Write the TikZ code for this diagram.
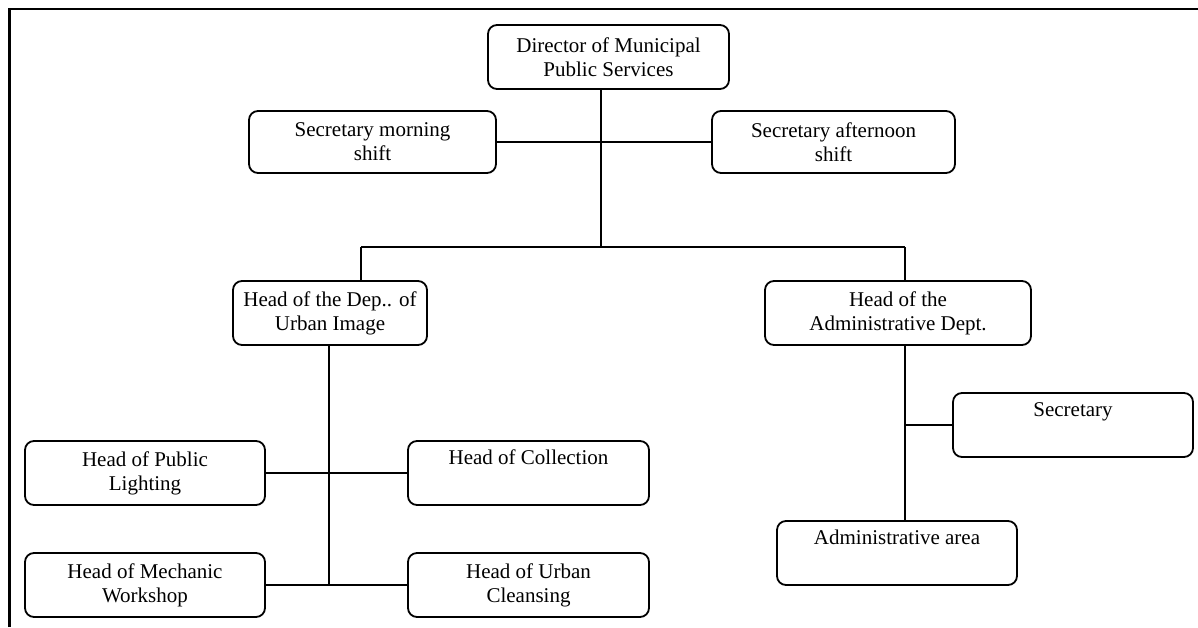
\documentclass[tikz,border=0pt]{standalone}
\usepackage{fontspec}
\setmainfont{Liberation Serif}
\begin{document}
\begin{tikzpicture}[x=1pt,y=-1pt,
  orgbox/.style={draw, line width=1.8pt, rounded corners=9pt, align=center,
    inner sep=0pt, font=\fontsize{21}{24}\selectfont},
  link/.style={line width=1.7pt}]
\useasboundingbox (0,0) rectangle (1198,627);
% frame
\draw[line width=2.6pt] (9.5,627) -- (9.5,9) -- (1198,9);

% boxes: centre, width, height in px
\node[orgbox, minimum width=241pt, minimum height=64pt] (dir)   at (608.5,57) {Director of Municipal\\Public Services};
\node[orgbox, minimum width=247pt, minimum height=62pt] (secm)  at (372.5,142) {Secretary morning\\shift};
\node[orgbox, minimum width=243pt, minimum height=62pt] (seca)  at (833.5,142) {Secretary afternoon\\shift};
\node[orgbox, minimum width=194pt, minimum height=64pt] (urb)   at (330,313) {Head of the Dep.. of\\Urban Image};
\node[orgbox, minimum width=266pt, minimum height=64pt] (admh)  at (898,313) {Head of the\\Administrative Dept.};
\node[orgbox, minimum width=240pt, minimum height=64pt] (light) at (145,473) {Head of Public\\Lighting};
\node[orgbox, minimum width=241pt, minimum height=64pt] (coll)  at (528.5,473) {Head of Collection\\\strut};
\node[orgbox, minimum width=240pt, minimum height=64pt] (mech)  at (145,585) {Head of Mechanic\\Workshop};
\node[orgbox, minimum width=241pt, minimum height=64pt] (clean) at (528.5,585) {Head of Urban\\Cleansing};
\node[orgbox, minimum width=240pt, minimum height=64pt] (sec)   at (1073,425) {Secretary\\\strut};
\node[orgbox, minimum width=240pt, minimum height=64pt] (area)  at (897,553) {Administrative area\\\strut};

% junction points
\coordinate (trunk) at (601,247);
\coordinate (barl)  at (361,247);
\coordinate (barr)  at (905,247);
\coordinate (lbot)  at (329,585);

\draw[link] (dir.south -| trunk) -- (trunk);
\draw[link] (secm.east) -- (seca.west);
\draw[link] (barl) -- (barr);
\draw[link] (barl) -- (urb.north -| barl);
\draw[link] (barr) -- (admh.north -| barr);
\draw[link] (urb.south -| lbot) -- (lbot);
\draw[link] (light.east) -- (coll.west);
\draw[link] (mech.east) -- (clean.west);
\draw[link] (admh.south -| barr) -- (area.north -| barr);
\draw[link] (sec.west -| barr) -- (sec.west);
\end{tikzpicture}
\end{document}
